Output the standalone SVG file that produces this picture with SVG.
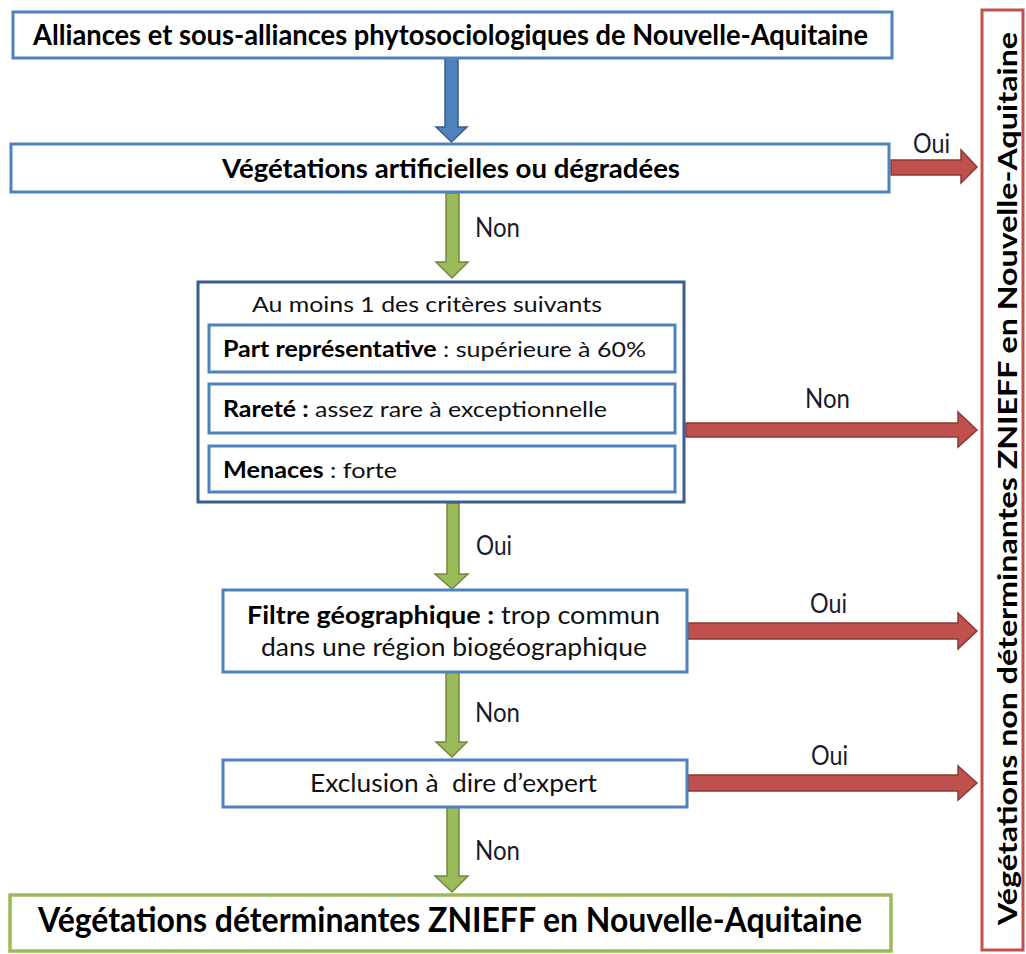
<svg xmlns="http://www.w3.org/2000/svg" width="1026" height="954" viewBox="0 0 1026 954">
<style>
.box{fill:#fff;stroke:#4F81BD;stroke-width:3}
.cont{fill:#fff;stroke:#3B5E8C;stroke-width:3}
.green{fill:#fff;stroke:#9BBB59;stroke-width:3.5}
.redbox{fill:#fff;stroke:#C0504D;stroke-width:3}
.ab{fill:#4F81BD;stroke:#385D8A;stroke-width:1.5}
.ag{fill:#9BBB59;stroke:#71893F;stroke-width:1.5}
.ar{fill:#C0504D;stroke:#8C3836;stroke-width:1.5}
text{font-family:Lato,"Liberation Sans",sans-serif;fill:#111}
.b{font-weight:bold;fill:#000}
.t{font-size:22px}
.m{font-size:25px}
.l{font-size:27px;fill:#1a1a2a}
.pre{white-space:pre}
</style>
<g id="connectors">
<polygon class="ab" points="445,58 458,58 458,127 467,127 451.5,142 436,127 445,127"/>
<polygon class="ag" points="446,193 459,193 459,262 468,262 452,278 436,262 446,262"/>
<polygon class="ag" points="447,503 459,503 459,574 468,574 452,589 435,574 447,574"/>
<polygon class="ag" points="446,672 459,672 459,742 467,742 452,757 436,742 446,742"/>
<polygon class="ag" points="447,807 459,807 459,876 468,876 452,892 435,876 447,876"/>
<polygon class="ar" points="891,160 961,160 961,150 977,167 961,183 961,175 891,175"/>
<polygon class="ar" points="686,423 958,423 958,412 977,430 958,447 958,437 686,437"/>
<polygon class="ar" points="688,623 958,623 958,613 977,631 958,649 958,639 688,639"/>
<polygon class="ar" points="688,775 958,775 958,766 977,783 958,800 958,791 688,791"/>
<text class="l" x="913" y="153" textLength="37" lengthAdjust="spacingAndGlyphs">Oui</text>
<text class="l" x="475" y="237" textLength="45" lengthAdjust="spacingAndGlyphs">Non</text>
<text class="l" x="476" y="555" textLength="36" lengthAdjust="spacingAndGlyphs">Oui</text>
<text class="l" x="475" y="722" textLength="45" lengthAdjust="spacingAndGlyphs">Non</text>
<text class="l" x="475" y="860" textLength="45" lengthAdjust="spacingAndGlyphs">Non</text>
<text class="l" x="805" y="408" textLength="45" lengthAdjust="spacingAndGlyphs">Non</text>
<text class="l" x="810" y="613" textLength="37" lengthAdjust="spacingAndGlyphs">Oui</text>
<text class="l" x="811" y="765" textLength="37" lengthAdjust="spacingAndGlyphs">Oui</text>
</g>
<g id="n1">
<rect class="box" x="13" y="12" width="879" height="46"/>
<text class="b" x="33" y="45" font-size="28" textLength="835" lengthAdjust="spacingAndGlyphs">Alliances et sous-alliances phytosociologiques de Nouvelle-Aquitaine</text>
</g>
<g id="n2">
<rect class="box" x="11" y="144" width="878" height="48"/>
<text class="b" x="222" y="178" font-size="27" textLength="458" lengthAdjust="spacingAndGlyphs">Végétations artificielles ou dégradées</text>
</g>
<g id="n3">
<rect class="cont" x="198" y="282" width="486" height="220"/>
<text class="t" x="252" y="312" textLength="350" lengthAdjust="spacingAndGlyphs">Au moins 1 des critères suivants</text>
</g>
<g id="n3a">
<rect class="box" x="209" y="325" width="466" height="47"/>
<text class="t" x="223" y="357" textLength="423" lengthAdjust="spacingAndGlyphs"><tspan class="b">Part représentative</tspan> : supérieure à 60%</text>
</g>
<g id="n3b">
<rect class="box" x="209" y="384" width="466" height="49"/>
<text class="t" x="223" y="417" textLength="384" lengthAdjust="spacingAndGlyphs"><tspan class="b">Rareté :</tspan> assez rare à exceptionnelle</text>
</g>
<g id="n3c">
<rect class="box" x="209" y="446" width="466" height="46"/>
<text class="t" x="223" y="478" textLength="174" lengthAdjust="spacingAndGlyphs"><tspan class="b">Menaces</tspan> : forte</text>
</g>
<g id="n4">
<rect class="box" x="223" y="590" width="464" height="82"/>
<text class="m" x="247" y="624" textLength="413" lengthAdjust="spacingAndGlyphs"><tspan class="b">Filtre géographique :</tspan> trop commun</text>
<text class="m" x="261" y="656" textLength="386" lengthAdjust="spacingAndGlyphs">dans une région biogéographique</text>
</g>
<g id="n5">
<rect class="box" x="223" y="760" width="464" height="47"/>
<text class="m pre" x="310" y="792" textLength="287" lengthAdjust="spacingAndGlyphs">Exclusion à  dire d’expert</text>
</g>
<g id="n6">
<rect class="green" x="10" y="895" width="881" height="56"/>
<text class="b" x="38" y="932" font-size="35" textLength="824" lengthAdjust="spacingAndGlyphs">Végétations déterminantes ZNIEFF en Nouvelle-Aquitaine</text>
</g>
<g id="n7">
<rect class="redbox" x="982" y="10" width="41" height="940"/>
<text class="b" transform="translate(1017,925) rotate(-90)" x="0" y="0" font-size="26" textLength="893" lengthAdjust="spacingAndGlyphs">Végétations non déterminantes ZNIEFF en Nouvelle-Aquitaine</text>
</g>
</svg>
